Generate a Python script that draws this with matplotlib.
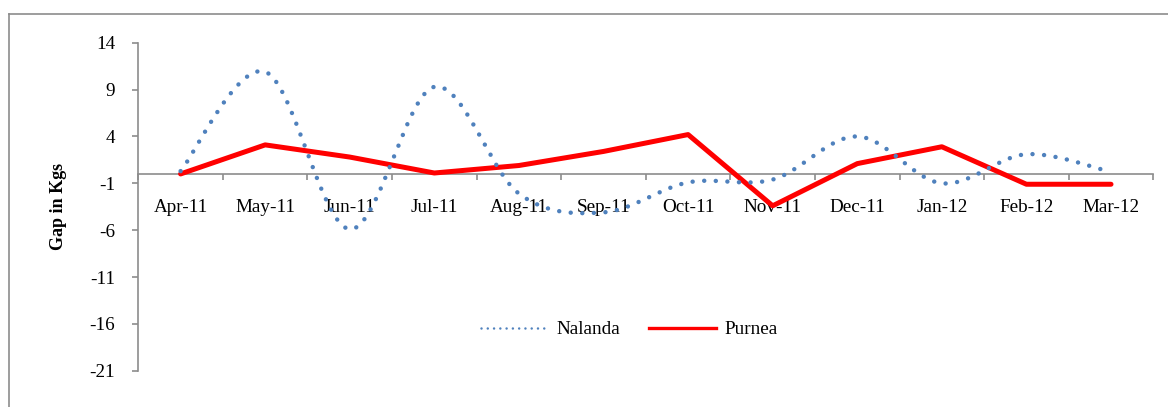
import matplotlib
matplotlib.use("Agg")
import matplotlib.pyplot as plt
from matplotlib.lines import Line2D
import numpy as np


months = ["Apr-11", "May-11", "Jun-11", "Jul-11", "Aug-11", "Sep-11",
          "Oct-11", "Nov-11", "Dec-11", "Jan-12", "Feb-12", "Mar-12"]
nalanda = [0.3, 10.9, -5.9, 9.3, -2.1, -4.1, -0.9, -0.6, 4.0, -1.0, 2.1, 0.2]
purnea = [0.0, 3.1, 1.8, 0.1, 0.9, 2.4, 4.2, -3.4, 1.1, 2.9, -1.1, -1.1]
y_ticks = [-21, -16, -11, -6, -1, 4, 9, 14]

BLUE = "#4F81BD"
RED = "#FF0000"
GREY = "#8C8C8C"


def smooth(x, y, n=30):
    # excel style smoothed line: catmull-rom through the points as beziers
    p = np.column_stack([x, y]).astype(float)
    pts = []
    for i in range(len(p) - 1):
        p0 = p[max(i - 1, 0)]
        p1 = p[i]
        p2 = p[i + 1]
        p3 = p[min(i + 2, len(p) - 1)]
        c1 = p1 + (p2 - p0) / 6
        c2 = p2 - (p3 - p1) / 6
        t = np.linspace(0, 1, n, endpoint=(i == len(p) - 2))[:, None]
        seg = ((1 - t) ** 3 * p1 + 3 * (1 - t) ** 2 * t * c1
               + 3 * (1 - t) * t ** 2 * c2 + t ** 3 * p2)
        pts.append(seg)
    pts = np.vstack(pts)
    return pts[:, 0], pts[:, 1]


plt.rcParams["font.family"] = ["Liberation Serif", "DejaVu Serif"]
plt.rcParams["axes.unicode_minus"] = False

fig = plt.figure(figsize=(11.68, 4.07), dpi=100)
ax = fig.add_axes([138.3 / 1168, 1 - 370.8 / 407, 1015 / 1168, 328.1 / 407])

x = np.arange(len(months))
sx, sy = smooth(x, nalanda)
ax.plot(x, purnea, color=RED, lw=3.6, solid_capstyle="round",
        solid_joinstyle="round", zorder=3)
ax.plot(sx, sy, color=BLUE, lw=3.2, linestyle=(0, (0.01, 2.6)),
        dash_capstyle="round", zorder=4)

ax.set_xlim(-0.5, len(months) - 0.5)
ax.set_ylim(-21, 14)

for s in ["top", "right"]:
    ax.spines[s].set_visible(False)
ax.spines["bottom"].set_position(("data", 0))
ax.spines["bottom"].set_color(GREY)
ax.spines["left"].set_color(GREY)
ax.spines["bottom"].set_linewidth(1.2)
ax.spines["left"].set_linewidth(1.2)

ax.set_xticks(x)
ax.set_xticklabels(months)
ax.set_xticks(np.arange(len(months) + 1) - 0.5, minor=True)
ax.tick_params(axis="x", which="major", length=0, pad=18, labelsize=13.8)
ax.tick_params(axis="x", which="minor", length=4, width=1.2, color=GREY,
               direction="out")

ax.set_yticks(y_ticks)
ax.tick_params(axis="y", length=4.3, width=1.2, color=GREY, pad=12.5,
               labelsize=13.8)

ax.set_ylabel("Gap in Kgs", fontsize=13, fontweight="bold", va="center")
ax.yaxis.set_label_coords(-0.079, 0.5)

handles = [
    Line2D([], [], color=BLUE, lw=1.8, linestyle=(0, (0.01, 2.5)),
           dash_capstyle="round"),
    Line2D([], [], color=RED, lw=2.4),
]
ax.legend(handles, ["Nalanda", "Purnea"], loc="center",
          bbox_to_anchor=(0.484, 0.125), ncol=2, frameon=False,
          fontsize=13.8, handlelength=3.5, handletextpad=0.45,
          columnspacing=1.5)

# outer chart border (clipped at right and bottom)
fig.add_artist(Line2D([9 / 1168, 9 / 1168], [0, 1 - 14 / 407],
                      color=GREY, lw=1.2))
fig.add_artist(Line2D([9 / 1168, 1], [1 - 14 / 407, 1 - 14 / 407],
                      color=GREY, lw=1.2))

fig.savefig("out.png", dpi=100)
